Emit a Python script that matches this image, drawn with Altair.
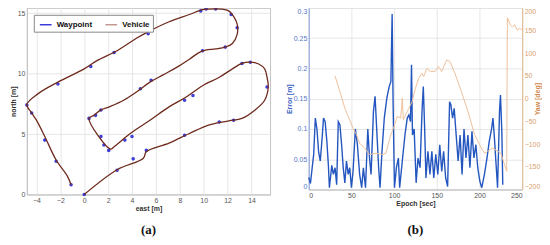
import altair as alt
import pandas as pd

# ---------------- Panel (a): trajectory ----------------
veh_east = [0.0, 2.75, 4.95, 5.2, 7.1, 8.8, 10.4, 12.1, 13.2, 14.3, 15.1, 15.4, 15.3, 15.1, 14.6,
            13.9, 13.2, 12.4, 11.3, 9.9, 8.5, 7.1, 5.5, 3.85, 2.5, 2.2,
            0.4, 0.8, 1.4, 2.2, 3.3, 4.4, 5.5, 6.6, 7.7, 8.8, 9.6, 10.15, 11.0, 11.8, 12.4,
            12.8, 12.8, 12.5, 12.1, 11.5, 10.4, 9.9, 8.8, 7.1, 5.5, 4.4, 2.75, 1.1, 0.0,
            -2.2, -3.85, -4.8, -4.4, -4.0, -3.3, -2.35, -1.4, -1.1]
veh_north = [0.0, 2.05, 3.0, 3.55, 4.25, 5.05, 5.75, 6.1, 6.3, 7.0, 7.8, 8.9, 9.7, 10.4, 10.8,
             10.95, 10.85, 10.4, 9.7, 9.0, 8.05, 7.25, 6.15, 5.05, 3.95, 3.75,
             6.3, 6.55, 7.0, 7.3, 7.8, 8.5, 9.3, 9.9, 10.5, 11.2, 11.75, 11.95, 12.05, 12.2, 12.5,
             13.25, 14.1, 14.75, 15.2, 15.35, 15.35, 15.3, 14.9, 14.3, 13.55, 12.95, 11.9, 11.1, 10.4,
             9.3, 8.35, 7.45, 6.75, 6.15, 4.8, 2.85, 1.5, 0.8]

wp_east = [0.0, 2.75, 4.1, 5.2, 8.4, 11.3, 12.5, 15.3, 13.9, 13.2, 9.1, 8.4, 4.0, 3.4, 2.05,
           1.65, 1.4, 0.4, 0.95, 1.4, 4.7, 5.6, 9.9, 11.8, 12.8, 12.3, 11.0, 10.2, 9.75,
           5.35, 2.5, 0.55, -2.2, -4.8, -4.4, -3.3, -2.35, -1.1]
wp_north = [0.0, 2.0, 2.95, 3.65, 4.9, 6.0, 6.15, 8.9, 10.95, 10.85, 8.2, 7.8, 4.8, 4.5, 3.65,
            4.1, 4.8, 6.3, 6.55, 7.0, 8.75, 9.45, 11.9, 12.2, 13.8, 14.9, 15.35, 15.35, 15.2,
            13.3, 11.75, 10.6, 9.15, 7.4, 6.75, 4.5, 2.75, 0.8]

east_ticks = [-4, -2, 0, 2, 4, 6, 8, 10, 12, 14]
north_ticks = [0, 5, 10, 15]

# ---------------- Panel (b): error and yaw ----------------
epoch = [0, 2, 3.8, 5.8, 7.7, 9.6, 11.5, 13.5, 15.4, 17.3, 19.2, 21.2, 23, 24.2, 27, 28.8, 30.8,
         32.7, 34.6, 36.5, 38.5, 40.4, 42.3, 44.2, 46.2, 48, 50, 51.9, 54.6, 57, 59.6, 62, 64,
         66.5, 69.2, 71.2, 73, 75.8, 77.7, 79.6, 81.9, 83.5, 85.8, 88.5, 91.5, 94.2, 96.2, 97.7,
         98.8, 100.4, 102.7, 105, 106.5, 109.6, 112.7, 115.4, 117.3, 119.2, 120.4, 121.5, 123.5,
         125.8, 128, 130.4, 132.7, 134.2, 135.8, 137.3, 139.6, 142, 144.2, 146.5, 148.8, 151.2,
         153.5, 155.8, 158, 160.4, 162.7, 165, 166.5, 168.5, 170.4, 172.7, 175, 177.3, 179.6,
         181.9, 184.2, 186.5, 188.8, 191.2, 193.5, 195.8, 198, 200.4, 202.7, 205.8, 208.8, 211.5,
         214.2, 215.8, 217.3, 219.2, 221.2, 223.5, 224.6, 226.2, 227.3]
error = [0.02, 0.01, 0.033, 0.058, 0.118, 0.1, 0.063, 0.047, 0.08, 0.118, 0.112, 0.08, 0.04, 0.003,
         0.04, 0.025, 0.036, 0.008, 0.112, 0.107, 0.074, 0.036, 0.011, 0.047, 0.025, 0.036, 0.003,
         0.03, 0.1, 0.074, 0.025, 0.003, 0.036, 0.003, 0.1, 0.052, 0.025, 0.129, 0.154, 0.1, 0.036,
         0.003, 0.063, 0.118, 0.151, 0.17, 0.178, 0.29, 0.145, 0.003, 0.036, 0.052, 0.003, 0.047,
         0.09, 0.118, 0.123, 0.112, 0.206, 0.09, 0.1, 0.011, 0.052, 0.036, 0.129, 0.17, 0.1, 0.019,
         0.063, 0.025, 0.063, 0.019, 0.058, 0.025, 0.074, 0.03, 0.063, 0.019, 0.005, 0.145, 0.14,
         0.118, 0.134, 0.09, 0.047, 0.09, 0.025, 0.1, 0.052, 0.09, 0.036, 0.096, 0.052, 0.074, 0.036,
         0.014, 0.003, 0.025, 0.052, 0.08, 0.1, 0.118, 0.09, 0.047, 0.003, 0.129, 0.156, 0.096, 0.008]

yaw_epoch = [30.8, 36.5, 42.3, 51.9, 55.8, 59.6, 65.4, 71.2, 78.8, 86.5, 90.4, 96.2, 100, 103.8,
             107.7, 109.6, 110.8, 115.4, 121.2, 125, 128.8, 132.7, 134.6, 138.5, 142.3, 148, 151.9,
             155.8, 161.5, 165.4, 171.2, 178.8, 186.5, 194.2, 200, 205.8, 209.6, 215.4, 225, 231.9,
             232.7, 236.5, 238.5, 241.2, 244.2, 247.3, 250]
yaw = [50, 16, -21, -65, -79, -98, -109, -123, -120, -123, -120, -79, -61, -39,
       -43, 1, -46, -28, -6, 23, 45, 56, 49, 67, 60, 60, 71,
       60, 85, 82, 56, 16, -28, -79, -101, -120, -116, -109, -120, -160,
       178, 162, 158, 163, 151, 155, 151]

font = "Liberation Sans"
grid_col = "#e6e6e6"
wp_color = "#3a3ad8"
veh_color = "#6e2a1c"

# ---- panel a ----
veh_df = pd.DataFrame({"east": veh_east, "north": veh_north, "order": range(len(veh_east)),
                       "series": "Vehicle"})
wp_df = pd.DataFrame({"east": wp_east, "north": wp_north, "order": range(len(wp_east)),
                      "series": "Waypoint"})

xa = alt.X("east:Q", scale=alt.Scale(domain=[-4.8, 15.55], nice=False, zero=False),
           axis=alt.Axis(values=east_ticks, title="east [m]", format="d"))
ya = alt.Y("north:Q", scale=alt.Scale(domain=[0, 15.45], nice=False),
           axis=alt.Axis(values=north_ticks, title="north [m]"))
color_a = alt.Color("series:N", scale=alt.Scale(domain=["Waypoint", "Vehicle"],
                                                range=[wp_color, "#c49a90"]),
                    legend=alt.Legend(title=None, orient="none", legendX=7, legendY=7,
                                      direction="horizontal", symbolType="stroke",
                                      symbolStrokeWidth=1.5, symbolSize=140,
                                      labelFont=font, labelFontSize=8, labelFontWeight="bold",
                                      labelColor="#111", strokeColor="#888", fillColor="white",
                                      padding=3, columnPadding=10, symbolOffset=2))

wp_pts = alt.Chart(wp_df).mark_point(size=4, filled=False, strokeWidth=1.6, opacity=1,
                                     shape="circle").encode(
    x=xa, y=ya, color=color_a)
veh_line = alt.Chart(veh_df).mark_line(strokeWidth=1.3, interpolate="catmull-rom",
                                       color=veh_color).encode(
    x=xa, y=ya, order="order:Q")

panel_a = alt.layer(wp_pts, veh_line).properties(
    width=245, height=188,
    title=alt.TitleParams("(a)", orient="bottom", font="Liberation Serif", fontSize=13,
                          fontWeight="bold", color="#111", offset=13))

# ---- panel b ----
err_df = pd.DataFrame({"epoch": epoch, "error": error})
yaw_df = pd.DataFrame({"epoch": yaw_epoch, "yaw": yaw})
xb = alt.X("epoch:Q", scale=alt.Scale(domain=[0, 250], nice=False),
           axis=alt.Axis(values=[0, 50, 100, 150, 200, 250], title="Epoch [sec]"))

err_line = alt.Chart(err_df).mark_line(strokeWidth=1.4, color="#2456c0").encode(
    x=xb,
    y=alt.Y("error:Q", scale=alt.Scale(domain=[0, 0.3], nice=False),
            axis=alt.Axis(values=[0, 0.05, 0.1, 0.15, 0.2, 0.25, 0.3], title="Error [m]",
                          labelColor="#5577c8", titleColor="#3a62c0",
                          domainColor="#8aa2dc", labelFlush=True,
                          labelExpr="datum.value == 0 ? '0' : format(datum.value, '.3~f')")))
yaw_line = alt.Chart(yaw_df).mark_line(strokeWidth=1, color="#efc09a").encode(
    x=xb,
    y=alt.Y("yaw:Q", scale=alt.Scale(domain=[-200, 200], nice=False),
            axis=alt.Axis(orient="right", values=list(range(-200, 201, 50)), title="Yaw [deg]",
                          labelColor="#d9a070", titleColor="#d08a50", labelFlush=True,
                          domainColor="#e6b890", titleAngle=270, grid=False)))

panel_b = alt.layer(err_line, yaw_line).resolve_scale(y="independent").properties(
    width=215, height=183,
    title=alt.TitleParams("(b)", orient="bottom", font="Liberation Serif", fontSize=13,
                          fontWeight="bold", color="#111", offset=18))

chart = alt.hconcat(panel_a, panel_b, spacing=12).configure_view(
    stroke="#c4c4c4", strokeWidth=1
).configure_axis(
    labelFont=font, labelFontSize=7, labelColor="#555", titleFont=font, titleFontSize=7,
    titleFontWeight="bold", titleColor="#333", gridColor=grid_col, domainColor="#c4c4c4",
    ticks=False, labelPadding=2, titlePadding=1
).properties(padding={"left": 0, "top": -5, "right": 0, "bottom": 0})

chart.save("out.html", embed_options={"renderer": "svg", "actions": False})
